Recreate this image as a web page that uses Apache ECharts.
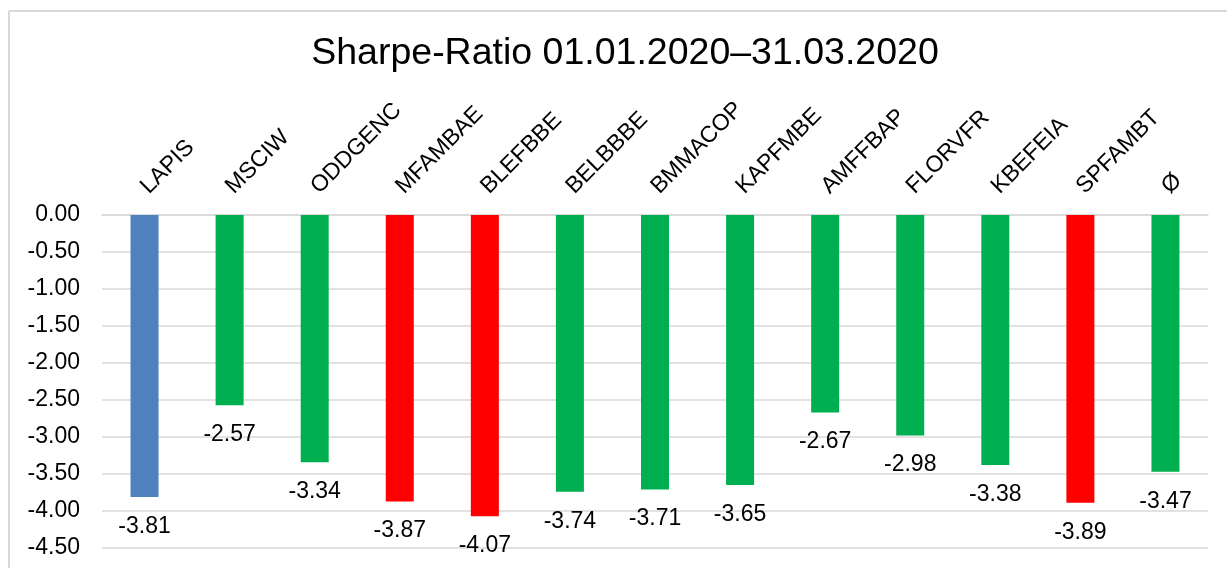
<!DOCTYPE html>
<html>
<head>
<meta charset="utf-8">
<script src="https://cdn.jsdelivr.net/npm/echarts@6/dist/echarts.min.js"></script>
<style>
  html, body { margin: 0; padding: 0; background: #ffffff; }
  #chart { width: 1227px; height: 568px; }
</style>
</head>
<body>
<div id="chart"></div>
<script>
// Sharpe ratios per fund, Q1 2020
const categories = ['LAPIS', 'MSCIW', 'ODDGENC', 'MFAMBAE', 'BLEFBBE', 'BELBBBE', 'BMMACOP',
                    'KAPFMBE', 'AMFFBAP', 'FLORVFR', 'KBEFEIA', 'SPFAMBT', 'Ø'];
const sharpeRatios = [-3.81, -2.57, -3.34, -3.87, -4.07, -3.74, -3.71, -3.65, -2.67, -2.98, -3.38, -3.89, -3.47];
const yTicks = [0, -0.5, -1, -1.5, -2, -2.5, -3, -3.5, -4, -4.5];

// bar colours: own fund blue, weak performers red, the rest green
const COLOR_OWN = '#4F81BD';
const COLOR_BAD = '#FF0000';
const COLOR_OK = '#00B050';
const ownFund = 'LAPIS';
const weakFunds = ['MFAMBAE', 'BLEFBBE', 'SPFAMBT'];

function barColor(name) {
  if (name === ownFund) return COLOR_OWN;
  if (weakFunds.indexOf(name) >= 0) return COLOR_BAD;
  return COLOR_OK;
}

const FONT = "'Liberation Sans', Arial, sans-serif";
const GRID_COLOR = '#D9D9D9';

const chart = echarts.init(document.getElementById('chart'), null, { renderer: 'canvas' });

chart.setOption({
  backgroundColor: '#ffffff',
  animation: false,
  title: {
    text: 'Sharpe-Ratio 01.01.2020–31.03.2020',
    left: 620,
    top: 30,
    textAlign: 'center',
    textStyle: { fontFamily: FONT, fontSize: 37.5, fontWeight: 'normal', color: '#000000' }
  },
  graphic: [
    { type: 'line', shape: { x1: 9, y1: 11, x2: 1240, y2: 11 }, style: { stroke: GRID_COLOR, lineWidth: 2 } },
    { type: 'line', shape: { x1: 9, y1: 11, x2: 9, y2: 600 }, style: { stroke: GRID_COLOR, lineWidth: 2 } }
  ],
  grid: { left: 102, right: 19, top: 215, bottom: 20, containLabel: false },
  xAxis: {
    type: 'category',
    position: 'top',
    data: categories,
    axisLine: { show: true, lineStyle: { color: GRID_COLOR, width: 1.5 } },
    axisTick: { show: false },
    axisLabel: {
      rotate: 45,
      margin: 25,
      interval: 0,
      fontFamily: FONT,
      fontSize: 23,
      color: '#000000'
    }
  },
  yAxis: {
    type: 'value',
    min: yTicks[yTicks.length - 1],
    max: yTicks[0],
    interval: 0.5,
    axisLine: { show: false },
    axisTick: { show: false },
    splitLine: { show: true, lineStyle: { color: GRID_COLOR, width: 1.5 } },
    axisLabel: {
      margin: 22,
      fontFamily: FONT,
      fontSize: 23,
      color: '#000000',
      formatter: v => v.toFixed(2)
    }
  },
  series: [{
    type: 'bar',
    barWidth: 28,
    data: sharpeRatios.map((v, i) => ({
      value: v,
      itemStyle: { color: barColor(categories[i]) }
    })),
    label: {
      show: true,
      position: 'bottom',
      distance: 18,
      fontFamily: FONT,
      fontSize: 23,
      color: '#000000',
      formatter: p => p.value.toFixed(2)
    }
  }]
});
</script>
</body>
</html>
